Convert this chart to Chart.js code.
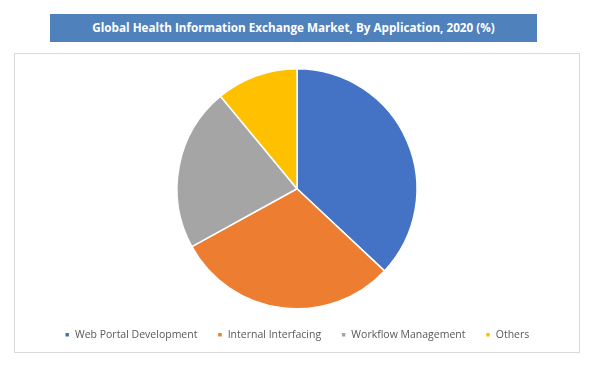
<!DOCTYPE html>
<html>
<head>
<meta charset="utf-8">
<script src="https://cdn.jsdelivr.net/npm/chart.js@4"></script>
<style>
  body { margin: 0; background: #fff; width: 602px; height: 379px; position: relative; overflow: hidden; }
  #title {
    position: absolute; left: 50px; top: 14px; width: 487px; height: 28px;
    background: #4f81bd; color: #fff; font-family: "Open Sans", sans-serif;
    font-weight: bold; font-size: 11.7px; line-height: 27px; text-align: center;
  }
  #frame {
    position: absolute; left: 14px; top: 53px; width: 564px; height: 298px;
    border: 1px solid #d9d9d9;
  }
  #chartBox { position: absolute; left: 15px; top: 54px; width: 564px; height: 296px; }
</style>
</head>
<body>
<div id="title">Global Health Information Exchange Market, By Application, 2020 (%)</div>
<div id="frame"></div>
<div id="chartBox"><canvas id="myChart"></canvas></div>
<script>
const categories = ['Web Portal Development', 'Internal Interfacing', 'Workflow Management', 'Others'];
const shares = [37, 30, 22, 11];
const colours = ['#4472c4', '#ed7d31', '#a5a5a5', '#ffc000'];

const ctx = document.getElementById('myChart');
new Chart(ctx, {
  type: 'pie',
  data: {
    labels: categories,
    datasets: [{
      data: shares,
      backgroundColor: colours,
      borderColor: '#ffffff',
      borderWidth: 1.5
    }]
  },
  options: {
    responsive: true,
    maintainAspectRatio: false,
    animation: false,
    layout: { padding: { top: 14, bottom: 0 } },
    plugins: {
      tooltip: { enabled: false },
      legend: {
        position: 'bottom',
        labels: {
          boxWidth: 5,
          boxHeight: 5,
          padding: 20,
          color: '#595959',
          font: { family: 'Open Sans', size: 10.5 }
        }
      }
    }
  }
});
</script>
</body>
</html>
